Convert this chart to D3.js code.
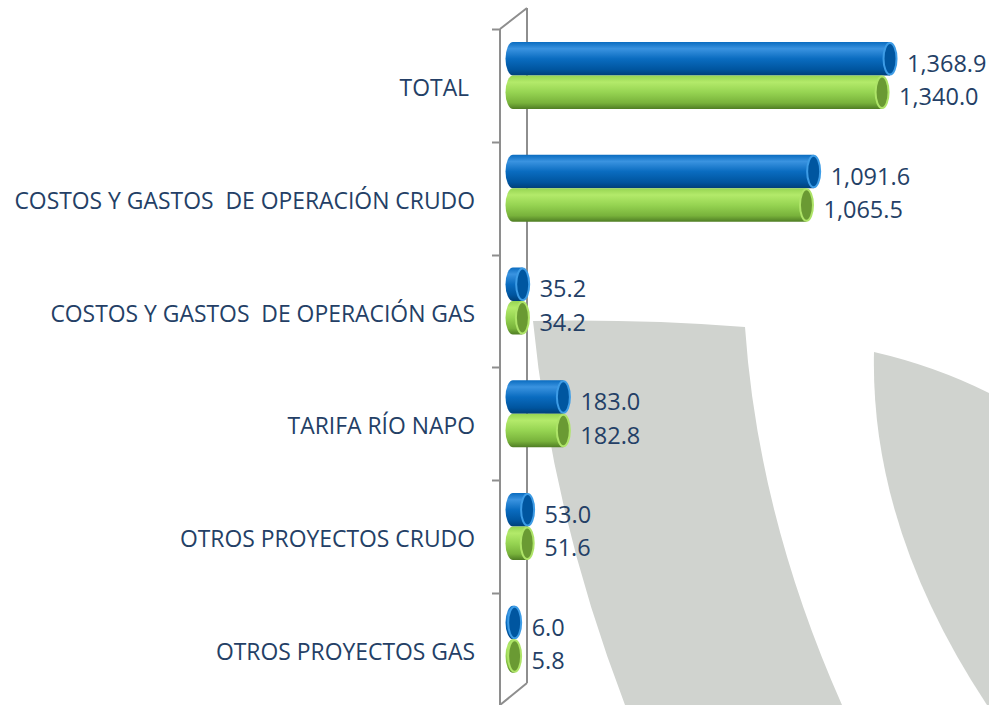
<!DOCTYPE html>
<html>
<head>
<meta charset="utf-8">
<script src="https://cdn.jsdelivr.net/npm/d3@7"></script>
<style>
  body { margin: 0; background: #fff; }
  svg { display: block; }
  text { font-family: "Open Sans", "Liberation Sans", sans-serif; fill: #243f66; white-space: pre; }
</style>
</head>
<body>
<svg id="chart"></svg>
<script>
var categories = ["TOTAL ", "COSTOS Y GASTOS  DE OPERACIÓN CRUDO", "COSTOS Y GASTOS  DE OPERACIÓN GAS",
                  "TARIFA RÍO NAPO", "OTROS PROYECTOS CRUDO", "OTROS PROYECTOS GAS"]
var series = ["blue", "green"]
var blueVals = [1368.9, 1091.6, 35.2, 183.0, 53.0, 6.0]
var greenVals = [1340.0, 1065.5, 34.2, 182.8, 51.6, 5.8]

var width = 989, height = 705

var svg = d3.select("#chart").attr("width", width).attr("height", height)

var colors = {
  blue:  {light: "#3a93e0", main: "#0a6cc0", dark: "#00559f", edge: "#003f78", cap: "#0056a0", rim: "#3d9ce6"},
  green: {light: "#b3ea6a", main: "#96d452", dark: "#78b23b", edge: "#4f7d24", cap: "#6a9a33", rim: "#aee468"}
}

var defs = svg.append("defs")
series.forEach(function(s){
  var g = defs.append("linearGradient").attr("id", "grad-" + s)
    .attr("x1", 0).attr("y1", 0).attr("x2", 0).attr("y2", 1)
  g.append("stop").attr("offset", "0%").attr("stop-color", colors[s].main)
  g.append("stop").attr("offset", "20%").attr("stop-color", colors[s].light)
  g.append("stop").attr("offset", "50%").attr("stop-color", colors[s].main)
  g.append("stop").attr("offset", "82%").attr("stop-color", colors[s].dark)
  g.append("stop").attr("offset", "100%").attr("stop-color", colors[s].edge)
})

// background watermark shapes
var bg = svg.append("g").attr("fill", "#d0d3cf")
bg.append("path").attr("d", "M533,321 Q640,319 745,327 Q758,516 842,705 L625,705 Q552,514 533,321 Z")
bg.append("path").attr("d", "M874,352 Q935,366 989,393 L989,705 L987,705 Q870,528 874,352 Z")

// scales
var y = d3.scaleBand().domain(categories).range([29, 705.5])
var ys = d3.scaleBand().domain(series).range([13, 80])
var x = d3.scaleLinear().domain([0, 1400]).range([513, 898.6])

// 3d axis wall
var axisG = svg.append("g").attr("stroke", "#8e8e8e").attr("stroke-width", 2).attr("fill", "none")
axisG.append("path").attr("d", "M500,29 L500,705 M527,8 L527,683 M500,29 L527,8 M500,705 L527,683")
axisG.selectAll("line.tick")
  .data(categories)
  .enter()
  .append("line")
  .attr("x1", 492).attr("x2", 500)
  .attr("y1", function(d){ return Math.round(y(d)) + 0.5 })
  .attr("y2", function(d){ return Math.round(y(d)) + 0.5 })

// category labels
svg.append("g").selectAll("text")
  .data(categories)
  .enter()
  .append("text")
  .attr("x", 475)
  .attr("y", function(d){ return y(d) + 59 })
  .attr("dy", "0.35em")
  .attr("text-anchor", "end")
  .attr("font-size", "22.9px")
  .text(function(d){ return d })

// bars
var rows = []
categories.forEach(function(c, i){
  rows.push({cat: c, s: "blue", v: blueVals[i]})
  rows.push({cat: c, s: "green", v: greenVals[i]})
})

var rx = 7.5
var bars = svg.append("g").selectAll("g")
  .data(rows)
  .enter()
  .append("g")

bars.append("path")
  .attr("fill", function(d){ return "url(#grad-" + d.s + ")" })
  .attr("d", function(d){
    var top = y(d.cat) + ys(d.s), h = ys.bandwidth(), bot = top + h
    var x0 = x(0), x1 = x(d.v)
    return "M" + x0 + "," + top + " L" + x1 + "," + top +
      " L" + x1 + "," + bot + " L" + x0 + "," + bot +
      " A" + rx + "," + (h / 2) + " 0 0 1 " + x0 + "," + top + " Z"
  })

bars.append("ellipse")
  .attr("cx", function(d){ return x(d.v) })
  .attr("cy", function(d){ return y(d.cat) + ys(d.s) + ys.bandwidth() / 2 })
  .attr("rx", rx - 1)
  .attr("ry", ys.bandwidth() / 2 - 1)
  .attr("fill", function(d){ return colors[d.s].cap })
  .attr("stroke", function(d){ return colors[d.s].rim })
  .attr("stroke-width", 2)

// value labels
svg.append("g").selectAll("text")
  .data(rows)
  .enter()
  .append("text")
  .attr("x", function(d){ return x(d.v) + 17 })
  .attr("y", function(d){ return y(d.cat) + ys(d.s) + ys.bandwidth() / 2 + 5 })
  .attr("dy", "0.35em")
  .attr("font-size", "23.5px")
  .text(function(d){ return d3.format(",.1f")(d.v) })
</script>
</body>
</html>
